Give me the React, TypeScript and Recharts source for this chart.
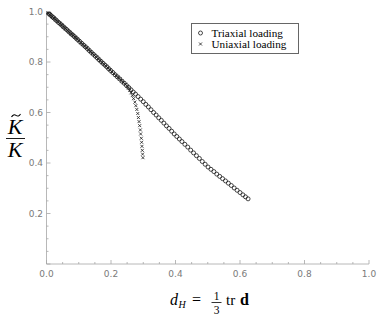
import React from 'react';
import { ScatterChart, Scatter, XAxis, YAxis, Legend } from 'recharts';

const triaxialX = [
  0, 0.003, 0.006, 0.010, 0.014, 0.018, 0.022, 0.027, 0.032, 0.037, 0.042, 0.047, 0.052, 0.057, 0.062,
  0.067, 0.072, 0.077, 0.082, 0.087, 0.092, 0.097, 0.103, 0.109, 0.115, 0.121, 0.127, 0.133, 0.139,
  0.145, 0.151, 0.157, 0.163, 0.169, 0.175, 0.181, 0.187, 0.193, 0.199, 0.206, 0.213, 0.220, 0.227,
  0.234, 0.241, 0.248, 0.255, 0.262, 0.269, 0.276, 0.284, 0.292, 0.300, 0.308, 0.316, 0.324, 0.332,
  0.340, 0.348, 0.356, 0.364, 0.372, 0.380, 0.388, 0.396, 0.404, 0.412, 0.420, 0.429, 0.438, 0.447,
  0.456, 0.465, 0.474, 0.483, 0.492, 0.501, 0.510, 0.519, 0.528, 0.537, 0.546, 0.555, 0.564, 0.573,
  0.582, 0.591, 0.600, 0.609, 0.617, 0.625,
];
const triaxialY = [
  1.000, 0.997, 0.993, 0.989, 0.984, 0.979, 0.975, 0.969, 0.963, 0.957, 0.952, 0.946, 0.940, 0.934, 0.929,
  0.923, 0.917, 0.911, 0.906, 0.900, 0.894, 0.888, 0.881, 0.874, 0.867, 0.860, 0.853, 0.845, 0.838,
  0.831, 0.824, 0.817, 0.809, 0.802, 0.795, 0.788, 0.781, 0.773, 0.766, 0.758, 0.749, 0.741, 0.733,
  0.724, 0.716, 0.707, 0.699, 0.690, 0.681, 0.673, 0.663, 0.653, 0.643, 0.632, 0.622, 0.611, 0.600,
  0.590, 0.579, 0.569, 0.558, 0.547, 0.537, 0.526, 0.515, 0.505, 0.495, 0.485, 0.474, 0.463, 0.451,
  0.440, 0.429, 0.418, 0.406, 0.395, 0.384, 0.375, 0.366, 0.356, 0.347, 0.338, 0.329, 0.320, 0.311,
  0.301, 0.292, 0.283, 0.274, 0.266, 0.258,
];

const uniaxialX = [
  0, 0.005, 0.011, 0.017, 0.023, 0.029, 0.035, 0.041, 0.047, 0.053, 0.059, 0.065, 0.071, 0.077, 0.083,
  0.089, 0.095, 0.101, 0.107, 0.113, 0.119, 0.125, 0.131, 0.137, 0.143, 0.149, 0.155, 0.161, 0.167,
  0.173, 0.179, 0.185, 0.191, 0.197, 0.203, 0.209, 0.215, 0.221, 0.227, 0.233, 0.239, 0.245, 0.250,
  0.254, 0.258, 0.262, 0.266, 0.270, 0.274, 0.277, 0.280, 0.283, 0.285, 0.287, 0.289, 0.291, 0.292,
  0.294, 0.295, 0.296, 0.297, 0.298, 0.299,
];
const uniaxialY = [
  1.000, 0.994, 0.987, 0.980, 0.974, 0.967, 0.960, 0.953, 0.946, 0.939, 0.932, 0.925, 0.918, 0.911, 0.905,
  0.898, 0.891, 0.884, 0.876, 0.869, 0.862, 0.855, 0.848, 0.841, 0.833, 0.826, 0.819, 0.812, 0.805,
  0.797, 0.790, 0.783, 0.776, 0.769, 0.761, 0.754, 0.747, 0.740, 0.733, 0.725, 0.718, 0.712, 0.704,
  0.697, 0.688, 0.678, 0.667, 0.655, 0.641, 0.627, 0.612, 0.596, 0.580, 0.564, 0.548, 0.531, 0.515,
  0.498, 0.482, 0.466, 0.450, 0.435, 0.421,
];

const xTicks = [0, 0.05, 0.1, 0.15, 0.2, 0.25, 0.3, 0.35, 0.4, 0.45, 0.5, 0.55, 0.6, 0.65, 0.7, 0.75, 0.8, 0.85, 0.9, 0.95, 1.0];
const yTicks = [0, 0.05, 0.1, 0.15, 0.2, 0.25, 0.3, 0.35, 0.4, 0.45, 0.5, 0.55, 0.6, 0.65, 0.7, 0.75, 0.8, 0.85, 0.9, 0.95, 1.0];
const xLabelTicks = [0, 0.2, 0.4, 0.6, 0.8, 1.0];
const yLabelTicks = [0.2, 0.4, 0.6, 0.8, 1.0];
const seriesNames = ['Triaxial loading', 'Uniaxial loading'];

const triaxialData = triaxialX.map((x, i) => ({ x, y: triaxialY[i] }));
const uniaxialData = uniaxialX.map((x, i) => ({ x, y: uniaxialY[i] }));

const isIn = (v: number, list: number[]) => list.some((t) => Math.abs(t - v) < 1e-6);

const AXIS = '#a6a6a6';
const TICKTEXT = '#7a7a7a';
const TICKFONT = 'DejaVu Sans, sans-serif';

const XTick = (props: any) => {
  const { x, y, payload } = props;
  const v = payload.value as number;
  const major = isIn(v, xLabelTicks);
  return (
    <g>
      <line x1={x} x2={x} y1={y} y2={y - (major ? 4 : 2)} stroke={AXIS} strokeWidth={0.8} />
      {major && (
        <text x={x} y={y + 13} textAnchor="middle" fontSize={9} fontFamily={TICKFONT} fill={TICKTEXT}>
          {v.toFixed(1)}
        </text>
      )}
    </g>
  );
};

const YTick = (props: any) => {
  const { x, y, payload } = props;
  const v = payload.value as number;
  const major = isIn(v, yLabelTicks) || Math.abs(v) < 1e-6;
  const labeled = isIn(v, yLabelTicks);
  return (
    <g>
      <line x1={x} x2={x + (major ? 4 : 2)} y1={y} y2={y} stroke={AXIS} strokeWidth={0.8} />
      {labeled && (
        <text x={x - 3.5} y={y} dy="0.35em" textAnchor="end" fontSize={9} fontFamily={TICKFONT} fill={TICKTEXT}>
          {v.toFixed(1)}
        </text>
      )}
    </g>
  );
};

const Circle = (p: any) => (
  <circle cx={p.cx} cy={p.cy} r={2} fill="none" stroke="#1a1a1a" strokeWidth={0.8} />
);
const Cross = (p: any) => {
  const s = 1.5;
  return (
    <g stroke="#1a1a1a" strokeWidth={0.8}>
      <line x1={p.cx - s} y1={p.cy - s} x2={p.cx + s} y2={p.cy + s} />
      <line x1={p.cx - s} y1={p.cy + s} x2={p.cx + s} y2={p.cy - s} />
    </g>
  );
};

const SERIF = 'Liberation Serif, Times New Roman, serif';

const XLabel = () => (
  <g fontFamily={SERIF} fill="#000">
    <text x={170} y={305} fontSize={16} fontStyle="italic">d</text>
    <text x={178.5} y={308} fontSize={10} fontStyle="italic">H</text>
    <text x={192} y={305} fontSize={16}>=</text>
    <text x={216.5} y={299.8} fontSize={11.5} textAnchor="middle">1</text>
    <line x1={211.5} x2={221.5} y1={302.5} y2={302.5} stroke="#000" strokeWidth={0.8} />
    <text x={216.5} y={313.5} fontSize={11.5} textAnchor="middle">3</text>
    <text x={226} y={305} fontSize={15}>tr</text>
    <text x={240} y={305} fontSize={16} fontWeight="bold">d</text>
  </g>
);

const YLabel = () => (
  <g fontFamily={SERIF} fill="#000">
    <path d="M11.5,117 Q13.5,113.6 16,115.4 Q18.5,117.2 20.5,114" fill="none" stroke="#000" strokeWidth={1.1} />
    <text x={15} y={133.5} fontSize={22} fontStyle="italic" textAnchor="middle">K</text>
    <line x1={6} x2={25} y1={138.5} y2={138.5} stroke="#000" strokeWidth={0.9} />
    <text x={15} y={157} fontSize={22} fontStyle="italic" textAnchor="middle">K</text>
  </g>
);

const LegendBox = () => (
  <svg width={109} height={32} style={{ display: 'block' }}>
    <rect x={0.5} y={0.5} width={107} height={30} fill="#fff" stroke="#666" strokeWidth={1} />
    <circle cx={9.5} cy={10} r={2} fill="none" stroke="#1a1a1a" strokeWidth={0.8} />
    <g stroke="#1a1a1a" strokeWidth={0.8}>
      <line x1={8} y1={19.5} x2={11} y2={22.5} />
      <line x1={8} y1={22.5} x2={11} y2={19.5} />
    </g>
    <text x={20.5} y={13.5} fontSize={11.2} fontFamily={SERIF} fill="#000">{seriesNames[0]}</text>
    <text x={20.5} y={25} fontSize={11.2} fontFamily={SERIF} fill="#000">{seriesNames[1]}</text>
  </svg>
);

export default function App() {
  return (
    <div style={{ position: 'absolute', left: 0, top: 0, background: '#fff' }}>
      <ScatterChart width={382} height={320} margin={{ top: 11.5, right: 13, left: 0, bottom: 0 }}>
        <XAxis
          dataKey="x"
          type="number"
          domain={[0, 1]}
          allowDataOverflow
          ticks={xTicks}
          interval={0}
          tick={<XTick />}
          tickLine={false}
          tickSize={0}
          tickMargin={0}
          height={56}
          axisLine={{ stroke: AXIS, strokeWidth: 0.8 }}
          label={<XLabel />}
        />
        <YAxis
          dataKey="y"
          type="number"
          domain={[0, 1]}
          allowDataOverflow
          ticks={yTicks}
          interval={0}
          tick={<YTick />}
          tickLine={false}
          tickSize={0}
          tickMargin={0}
          width={46.5}
          axisLine={{ stroke: AXIS, strokeWidth: 0.8 }}
          label={<YLabel />}
        />
        <Legend
          layout="horizontal"
          verticalAlign="middle"
          align="center"
          wrapperStyle={{ left: 191, top: 23, width: 109, height: 32 }}
          content={() => <LegendBox />}
        />
        <Scatter name={seriesNames[0]} data={triaxialData} shape={<Circle />} isAnimationActive={false} />
        <Scatter name={seriesNames[1]} data={uniaxialData} shape={<Cross />} isAnimationActive={false} />
      </ScatterChart>
    </div>
  );
}
